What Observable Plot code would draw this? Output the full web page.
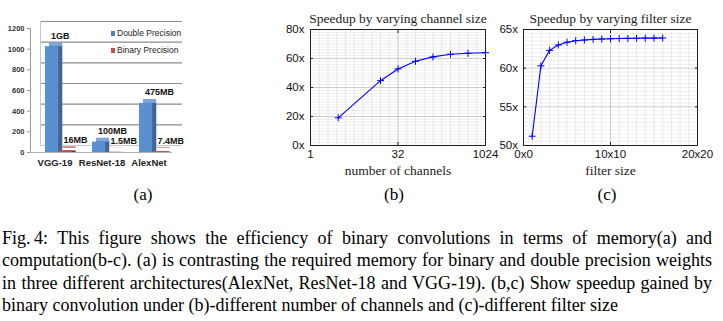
<!DOCTYPE html>
<html><head><meta charset="utf-8">
<script src="https://cdn.jsdelivr.net/npm/d3@7"></script>
<script src="https://cdn.jsdelivr.net/npm/@observablehq/plot@0.6"></script>
<style>
body{margin:0;background:#fff;width:723px;height:321px;position:relative;overflow:hidden;}
.panel{position:absolute;top:0;}
.panel svg{overflow:visible;}
.sub{position:absolute;font-family:"Liberation Serif",serif;font-size:17px;transform:translate(-50%,-50%);white-space:nowrap;}
.leg{position:absolute;font-family:"Liberation Sans",sans-serif;font-size:8.5px;color:#222;white-space:nowrap;}
.sw{position:absolute;width:4px;height:5px;}
#caption{position:absolute;left:2px;top:227px;width:710px;font-family:"Liberation Serif",serif;font-size:18px;line-height:22.3px;color:#000;}
#caption .j{text-align:justify;text-align-last:justify;}
</style></head>
<body>
<div id="pa" class="panel" style="left:0px"></div>
<div id="pb" class="panel" style="left:250px"></div>
<div id="pc" class="panel" style="left:480px"></div>
<div class="sw" style="left:111px;top:31px;background:#4f81bd"></div>
<div class="leg" style="left:117px;top:27.5px">Double Precision</div>
<div class="sw" style="left:111px;top:48px;background:#c0504d"></div>
<div class="leg" style="left:117px;top:44.5px">Binary Precision</div>
<div class="sub" style="left:143px;top:195px">(a)</div>
<div class="sub" style="left:394px;top:195px">(b)</div>
<div class="sub" style="left:607px;top:195px">(c)</div>
<div id="caption">
<div class="j">Fig.&thinsp;4: This figure shows the efficiency of binary convolutions in terms of memory(a) and</div>
<div class="j">computation(b-c). (a) is contrasting the required memory for binary and double precision weights</div>
<div class="j">in three different architectures(AlexNet, ResNet-18 and VGG-19). (b,c) Show speedup gained by</div>
<div>binary convolution under (b)-different number of channels and (c)-different filter size</div>
</div>
<script>
// ---- Panel (a): memory ----
const archs = ["VGG-19", "ResNet-18", "AlexNet"];
const doubleMB = [1024, 100, 475];
const binaryMB = [16, 1.5, 7.4];
const doubleLabels = ["1GB", "100MB", "475MB"];
const binaryLabels = ["16MB", "1.5MB", "7.4MB"];
const memTicks = [0, 200, 400, 600, 800, 1000, 1200];

// ---- Panel (b): channels ----
const channels = [3, 16, 32, 64, 128, 256, 512, 1024];
const channelSpeedup = [19.1, 44.7, 52.8, 58.1, 61.1, 62.9, 63.6, 64.0];
const channelTicks = [1, 32, 1024];
const channelYTicks = [0, 20, 40, 60, 80];

// ---- Panel (c): filter size ----
const filterSizes = [1, 2, 3, 4, 5, 6, 7, 8, 9, 10, 11, 12, 13, 14, 15, 16];
const filterSpeedup = [51.2, 60.3, 62.3, 63.0, 63.35, 63.55, 63.65, 63.72, 63.77, 63.8, 63.83, 63.85, 63.87, 63.88, 63.89, 63.9];
const filterTicks = [0, 10, 20];
const filterTickLabels = ["0x0", "10x10", "20x20"];
const filterYTicks = [50, 55, 60, 65];

const rowsA = archs.map((a, i) => ({arch: a, dbl: doubleMB[i], bin: binaryMB[i], dl: doubleLabels[i], bl: binaryLabels[i]}));

const pa = Plot.plot({
  width: 240, height: 180,
  marginLeft: 30, marginRight: 68, marginTop: 28, marginBottom: 28,
  style: {fontFamily: "Liberation Sans, sans-serif", background: "transparent", overflow: "visible"},
  x: {domain: archs, padding: 0, label: null},
  y: {domain: [0, 1200], label: null},
  marks: [
    Plot.ruleY(memTicks.slice(1), {dx: 10, dy: -7, stroke: "#8c8c8c", strokeWidth: 1.2}),
    Plot.ruleY([0], {dx: 10, dy: -7, stroke: "#c8c8c8"}),
    Plot.frame({anchor: "left", dx: 10, dy: -7, stroke: "#c8c8c8"}),
    Plot.frame({anchor: "left", stroke: "#9a9a9a"}),
    Plot.ruleY([0], {stroke: "#b0b0b0"}),
    Plot.barY(rowsA, {x: "arch", y: "dbl", insetLeft: 14, insetRight: 19.8, fill: "#7ea6d8", dx: 4, dy: -4}),
    Plot.barY(rowsA, {x: "arch", y: "dbl", insetLeft: 14, insetRight: 19.8, fill: "#3c659a", dx: 4, dy: 0}),
    Plot.barY(rowsA, {x: "arch", y: "dbl", insetLeft: 14, insetRight: 19.8, fill: "#5b8fcf"}),
    Plot.barY(rowsA, {x: "arch", y: "bin", insetLeft: 27.5, insetRight: 6.3, fill: "#d27d7a", dx: 4, dy: -4}),
    Plot.barY(rowsA, {x: "arch", y: "bin", insetLeft: 27.5, insetRight: 6.3, fill: "#8e3532", dx: 4, dy: 0}),
    Plot.barY(rowsA, {x: "arch", y: "bin", insetLeft: 27.5, insetRight: 6.3, fill: "#c0504d"}),
    Plot.text(rowsA, {x: "arch", y: "dbl", text: "dl", textAnchor: "start", dx: -4, dy: -11, fontSize: 9, fontWeight: "bold", fill: "#111"}),
    Plot.text(rowsA, {x: "arch", y: "bin", text: "bl", textAnchor: "start", dx: 8.5, dy: -11, fontSize: 9, fontWeight: "bold", fill: "#111"}),
    Plot.axisY({ticks: memTicks, tickSize: 3, tickPadding: 3, tickFormat: d => String(d), fontSize: 7.5, fontWeight: "bold", stroke: "#999", fill: "#333", label: null}),
    Plot.axisX({tickSize: 0, tickPadding: 7, fontSize: 9.5, fontWeight: "bold", fill: "#222", label: null})
  ]
});
document.getElementById("pa").appendChild(pa);

function speedPanel({width, marginLeft, marginRight, x, y, xGridMinor, yGridMinor, xTicks, xFormat, yTicks, data, title, xlabel, tickPadY}) {
  const fmtY = d => d + "x";
  return Plot.plot({
    width, height: 180, marginLeft, marginRight, marginTop: 29, marginBottom: 35,
    style: {fontFamily: "Liberation Sans, sans-serif", background: "transparent", overflow: "visible"},
    x: {...x, label: null},
    y: {...y, label: null},
    marks: [
      Plot.gridX({ticks: xGridMinor, stroke: "#000", strokeOpacity: 0.07}),
      Plot.gridY({ticks: yGridMinor, stroke: "#000", strokeOpacity: 0.07}),
      Plot.gridX({ticks: xTicks, stroke: "#000", strokeOpacity: 0.13}),
      Plot.gridY({ticks: yTicks, stroke: "#000", strokeOpacity: 0.13}),
      Plot.frame({stroke: "#222"}),
      Plot.axisX({anchor: "bottom", ticks: xTicks, tickSize: -3, tickFormat: () => "", stroke: "#222", label: null}),
      Plot.axisX({anchor: "top", ticks: xTicks, tickSize: -3, tickFormat: () => "", stroke: "#222", label: null}),
      Plot.axisY({anchor: "left", ticks: yTicks, tickSize: -3, tickFormat: () => "", stroke: "#222", label: null}),
      Plot.axisY({anchor: "right", ticks: yTicks, tickSize: -3, tickFormat: () => "", stroke: "#222", label: null}),
      Plot.axisX({anchor: "bottom", ticks: xTicks, tickSize: 0, tickPadding: 4, tickFormat: xFormat, fontSize: 11.5, fill: "#111", label: null}),
      Plot.axisY({anchor: "left", ticks: yTicks, tickSize: 0, tickPadding: tickPadY, tickFormat: fmtY, fontSize: 11.5, fill: "#111", label: null}),
      Plot.line(data, {x: "x", y: "y", stroke: "#0000ff", strokeWidth: 1.1}),
      Plot.dot(data, {x: "x", y: "y", symbol: "plus", r: 2.4, stroke: "#0000ff", strokeWidth: 1}),
      Plot.text([title], {text: d => d, frameAnchor: "top", lineAnchor: "middle", dy: -11, fontFamily: "Liberation Serif, serif", fontSize: 13.5, fill: "#222"}),
      Plot.text([xlabel], {text: d => d, frameAnchor: "bottom", lineAnchor: "middle", dy: 25, fontFamily: "Liberation Serif, serif", fontSize: 13.5, fill: "#222"})
    ]
  });
}

const pb = speedPanel({
  width: 240, marginLeft: 60, marginRight: 5,
  x: {type: "log", base: 2, domain: [1, 1024]},
  y: {domain: [0, 80]},
  xGridMinor: d3.range(0, 10.01, 0.5).map(k => 2 ** k),
  yGridMinor: d3.range(0, 80.01, 2),
  xTicks: channelTicks, xFormat: d => String(d),
  yTicks: channelYTicks,
  data: channels.map((c, i) => ({x: c, y: channelSpeedup[i]})),
  title: "Speedup by varying channel size", xlabel: "number of channels", tickPadY: 6
});
document.getElementById("pb").appendChild(pb);

const pc = speedPanel({
  width: 243, marginLeft: 43, marginRight: 26,
  x: {type: "linear", domain: [0, 20]},
  y: {domain: [50, 65]},
  xGridMinor: d3.range(0, 20.01, 1),
  yGridMinor: d3.range(50, 65.01, 0.5),
  xTicks: filterTicks, xFormat: d => filterTickLabels[filterTicks.indexOf(d)],
  yTicks: filterYTicks,
  data: filterSizes.map((f, i) => ({x: f, y: filterSpeedup[i]})),
  title: "Speedup by varying filter size", xlabel: "filter size", tickPadY: 5.5
});
document.getElementById("pc").appendChild(pc);
</script>
</body></html>
